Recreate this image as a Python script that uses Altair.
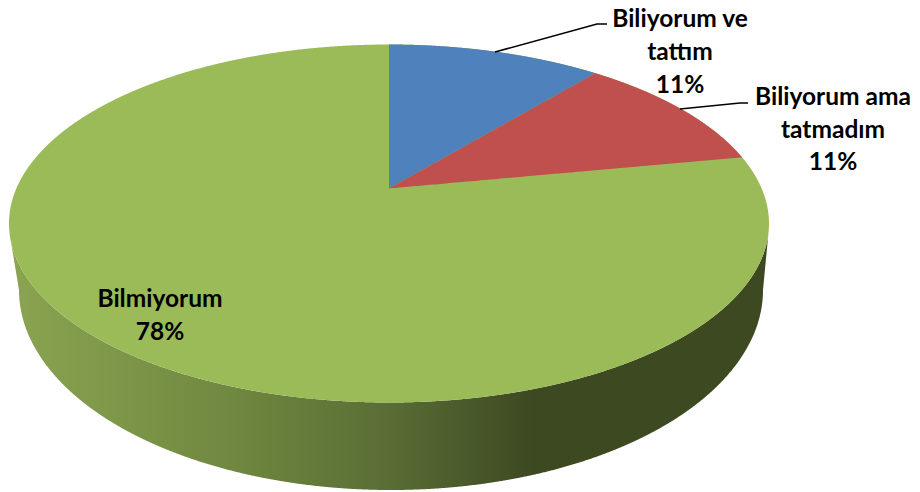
import numpy as np
import pandas as pd
import altair as alt

# --- chart values -----------------------------------------------------------
labels = ["Biliyorum ve\ntattım\n11%", "Biliyorum ama\ntatmadım\n11%", "Bilmiyorum\n78%"]
shares = [11, 11, 78]
colors = ["#4f81bd", "#c0504d", "#9bbb59"]

# --- drawing layout ----------------------------------------------------------
cx, cy, rx, ry = 389.0, 223.5, 380.0, 179.0   # top face
bx, by, brx, bry = 391.0, 290.0, 372.0, 200.0  # lower rim
persp = 0.82                                   # tilt of the pie plane
label_pos = [(680, 20.3), (833, 98), (160, 300)]
leaders = [[(495, 52), (597, 24), (607, 24)], [(680, 109), (740, 103), (748, 103)]]


def warp(theta):
    return 2 * np.arctan(persp * np.tan(theta / 2))


def rim(t):
    return cx + rx * np.sin(t), cy - ry * np.cos(t)


edges = warp(np.radians(np.cumsum([0] + shares[:2]) * 3.6))
apex_y = rim(warp(np.pi / 2))[1]
p1, p2 = [rim(e) for e in edges[1:]]


def upper(x):
    return cy - ry * np.sqrt(np.clip(1 - ((x - cx) / rx) ** 2, 0, 1))


def lower(x):
    return cy + ry * np.sqrt(np.clip(1 - ((x - cx) / rx) ** 2, 0, 1))


def ray(x, p):
    return apex_y + (x - cx) * (p[1] - apex_y) / (p[0] - cx)


def xs(a, b, n=500):
    u = np.linspace(0, np.pi, n)
    return a + (b - a) * (1 - np.cos(u)) / 2


# top face (whole ellipse in the large slice's colour)
gx = cx + rx * np.cos(np.linspace(np.pi, 0, 1200))
green = pd.DataFrame({"x": gx, "y": upper(gx), "y2": lower(gx)})

# slice 1
x1 = xs(cx, p1[0])
blue = pd.DataFrame({"x": x1, "y": upper(x1), "y2": ray(x1, p1)})

# slice 2
x2 = np.sort(np.concatenate([xs(cx, p1[0], 100), xs(p1[0], p2[0], 300)]))
red = pd.DataFrame({
    "x": x2,
    "y": np.where(x2 <= p1[0], ray(x2, p1), upper(x2)),
    "y2": ray(x2, p2),
})

# side wall
jl, jr = cx - rx * 0.9985, cx + rx * 0.9985
sx = np.sort(np.concatenate([
    np.linspace(jl, bx - brx, 40),
    bx + brx * np.cos(np.linspace(np.pi, 0, 1200)),
    np.linspace(bx + brx, jr, 40),
]))
bottom = by + bry * np.sqrt(np.clip(1 - ((sx - bx) / brx) ** 2, 0, 1))
jly, jry = lower(np.array([jl, jr]))
left = sx < bx - brx
right = sx > bx + brx
bottom[left] = np.interp(sx[left], [jl, bx - brx], [jly, by])
bottom[right] = np.interp(sx[right], [bx + brx, jr], [by, jry])
side = pd.DataFrame({"x": sx, "y": lower(sx), "y2": bottom})

lead = pd.DataFrame(
    [{"i": i, "o": j, "x": p[0], "y": p[1]} for i, l in enumerate(leaders) for j, p in enumerate(l)]
)
text = pd.DataFrame({"label": labels, "x": [p[0] for p in label_pos], "y": [p[1] for p in label_pos]})

X = alt.X("x:Q", scale=alt.Scale(domain=[8, 912], nice=False, zero=False), axis=None)
Y = alt.Y("y:Q", scale=alt.Scale(domain=[492, 8], nice=False, zero=False), axis=None)
Y2 = alt.Y2("y2:Q")

grad = alt.Gradient(
    gradient="linear", x1=0, x2=1, y1=0, y2=0,
    stops=[
        alt.GradientStop(offset=0.0, color="#8ba451"),
        alt.GradientStop(offset=0.3, color="#6f873f"),
        alt.GradientStop(offset=0.5, color="#596d35"),
        alt.GradientStop(offset=0.69, color="#3d4921"),
        alt.GradientStop(offset=1.0, color="#3d4921"),
    ],
)


def face(df, color):
    return alt.Chart(df).mark_area(color=color, interpolate="linear").encode(x=X, y=Y, y2=Y2)


layers = [
    alt.Chart(side).mark_area(color=grad, interpolate="linear").encode(x=X, y=Y, y2=Y2),
    face(green, colors[2]),
    face(blue, colors[0]),
    face(red, colors[1]),
    alt.Chart(lead).mark_line(color="black", strokeWidth=1.5).encode(x=X, y=Y, detail="i:N", order="o:Q"),
    alt.Chart(text).mark_text(
        font="Lato", fontWeight="bold", fontSize=24.5, color="black",
        lineBreak="\n", lineHeight=32.7, align="center", baseline="middle",
    ).encode(x=X, y=Y, text="label:N"),
]

chart = alt.layer(*layers).properties(
    width=904, height=484, padding=0,
    autosize=alt.AutoSizeParams(type="none"),
).configure_view(stroke=None)

chart.save("out.html", embed_options={"renderer": "svg", "actions": False})
